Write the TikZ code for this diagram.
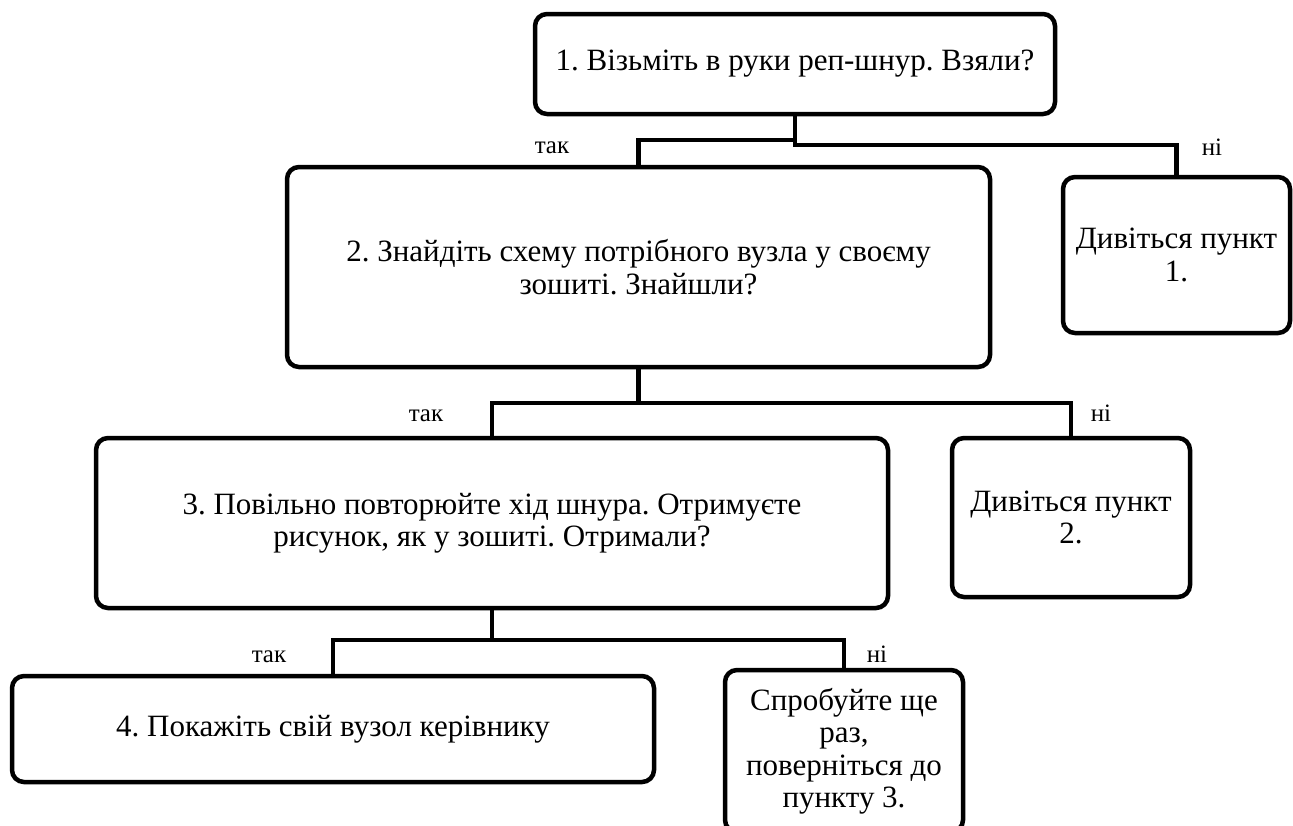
\documentclass[tikz,border=0pt]{standalone}
\usepackage{fontspec}
\setmainfont{Liberation Serif}
\newfontfamily\boxfont{Liberation Serif}
\frenchspacing
\usetikzlibrary{calc}
\tikzset{
  box/.style={draw, line width=4.5pt, rounded corners=12pt, align=center,
    font=\boxfont\fontsize{31}{32.5}\selectfont, inner sep=0pt},
  conn/.style={line width=4.5pt},
  lbl/.style={font=\boxfont\fontsize{25}{28}\selectfont, anchor=base, inner sep=0pt},
}
\begin{document}
\begin{tikzpicture}[x=1pt,y=-1pt]
\useasboundingbox (0,0) rectangle (1293,825);
\clip (0,0) rectangle (1293,825);

% steps of the instruction
\node[box, minimum width=520, minimum height=100] (b1) at (795,64)
  {1. Візьміть в руки реп-шнур. Взяли?};
\node[box, minimum width=703, minimum height=200] (b2) at (638.5,267)
  {2. Знайдіть схему потрібного вузла у своєму\\зошиті. Знайшли?};
\node[box, minimum width=227, minimum height=156] (n1) at (1176.5,255)
  {Дивіться пункт\\1.};
\node[box, minimum width=792, minimum height=170] (b3) at (492,523)
  {3. Повільно повторюйте хід шнура. Отримуєте\\рисунок, як у зошиті. Отримали?};
\node[box, minimum width=238, minimum height=159] (n2) at (1071,517.5)
  {Дивіться пункт\\2.};
\node[box, minimum width=642, minimum height=106] (b4) at (333,729)
  {4. Покажіть свій вузол керівнику};
\node[box, minimum width=238, minimum height=162] (b5) at (844,751)
  {Спробуйте ще\\раз,\\поверніться до\\пункту 3.};

% levels of the branching bars
\coordinate (j1l) at (0,140);
\coordinate (j1r) at (0,145);
\coordinate (j2) at (0,403);
\coordinate (j3) at (0,640);

% connectors
\draw[conn] (b1.south) |- (b2.north |- j1l) -- (b2.north);
\draw[conn] (b1.south) |- (n1.north |- j1r) -- (n1.north);
\draw[conn] (b2.south) |- (b3.north |- j2) -- (b3.north);
\draw[conn] (b2.south) |- (n2.north |- j2) -- (n2.north);
\draw[conn] (b3.south) |- (b4.north |- j3) -- (b4.north);
\draw[conn] (b3.south) |- (b5.north |- j3) -- (b5.north);

% branch labels
\node[lbl] (t1) at (552,153.5) {так};
\node[lbl] (h1) at (1212,155.5) {ні};
\node[lbl] (t2) at (426,421.5) {так};
\node[lbl] (h2) at (1101,421.5) {ні};
\node[lbl] (t3) at (269,662.5) {так};
\node[lbl] (h3) at (877,662.5) {ні};
\end{tikzpicture}
\end{document}
